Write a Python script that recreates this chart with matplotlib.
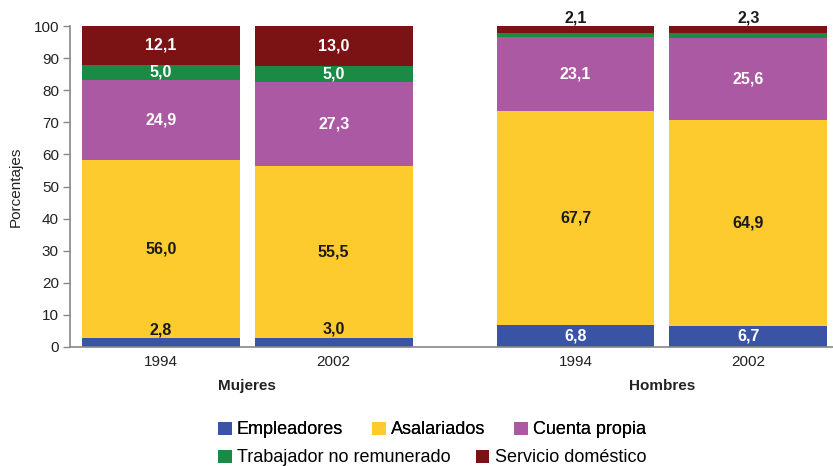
import numpy as np
import matplotlib
matplotlib.use("Agg")
import matplotlib.pyplot as plt
from matplotlib.patches import Patch
import matplotlib.transforms as mtransforms

plt.rcParams['font.family'] = ['Liberation Sans', 'DejaVu Sans']

groups = ["Mujeres", "Hombres"]
years = ["1994", "2002", "1994", "2002"]
categories = ["Empleadores", "Asalariados", "Cuenta propia",
              "Trabajador no remunerado", "Servicio doméstico"]
empleadores = [2.8, 3.0, 6.8, 6.7]
asalariados = [56.0, 55.5, 67.7, 64.9]
cuenta_propia = [24.9, 27.3, 23.1, 25.6]
no_remunerado = [5.0, 5.0, 1.5, 1.6]
domestico = [12.1, 13.0, 2.1, 2.3]
# which labels are shown (Hombres' unpaid workers are unlabeled)
show_label = [[True] * 4, [True] * 4, [True] * 4,
              [True, True, False, False], [True] * 4]

colors = ["#3A53A4", "#FDCB2D", "#AC59A3", "#1A8A45", "#7B1214"]
series = [empleadores, asalariados, cuenta_propia, no_remunerado, domestico]

data = np.array(series, dtype=float)
totals = data.sum(axis=0)
shares = data / totals * 100

x = np.array([0, 1, 2.4, 3.4])
width = 0.913

fig = plt.figure(figsize=(8.33, 4.66), dpi=100)
ax = fig.add_axes([70 / 833, 1 - 347 / 466, 1 - 70 / 833, (347 - 26) / 466])

bottom = np.zeros(4)
for i, (vals, col) in enumerate(zip(shares, colors)):
    ax.bar(x, vals, width, bottom=bottom, color=col, label=categories[i],
           zorder=2)
    for j in range(4):
        if not show_label[i][j]:
            continue
        txt = f"{data[i][j]:.1f}".replace(".", ",")
        if i == 0 and j < 2:
            ax.text(x[j], bottom[j] + vals[j] + 0.3, txt, ha='center', va='bottom',
                    fontsize=11.5, fontweight='bold', color='#1a1a1a')
        elif i == 4 and j >= 2:
            ax.text(x[j], 100.3, txt, ha='center', va='bottom', fontsize=11.5,
                    fontweight='bold', color='#1a1a1a', clip_on=False)
        else:
            c = '#1a1a1a' if i == 1 else 'white'
            ax.text(x[j], bottom[j] + vals[j] / 2, txt, ha='center', va='center',
                    fontsize=11.5, fontweight='bold', color=c)
    bottom += vals

ax.set_ylim(0, 100)
ax.set_xlim(-0.526, 3.89)
ax.set_yticks(np.arange(0, 101, 10))
ax.set_xticks(x)
ax.set_xticklabels(years)
ax.tick_params(axis='x', length=0, labelsize=11, pad=6, colors='#222222')
ax.tick_params(axis='y', length=5, width=1, labelsize=11, colors='#888888',
               labelcolor='#222222', pad=3)
for s in ['top', 'right']:
    ax.spines[s].set_visible(False)
for s in ['left', 'bottom']:
    ax.spines[s].set_color('#888888')
    ax.spines[s].set_linewidth(1.2)
ax.set_ylabel("Porcentajes", fontsize=11, color='#222222', labelpad=8)

trans = mtransforms.blended_transform_factory(ax.transData, ax.transAxes)
ax.text((x[0] + x[1]) / 2, -0.122, groups[0], transform=trans, ha='center',
        va='center', fontsize=11, fontweight='bold', color='#222222')
ax.text((x[2] + x[3]) / 2, -0.122, groups[1], transform=trans, ha='center',
        va='center', fontsize=11, fontweight='bold', color='#222222')

handles = [Patch(facecolor=c, edgecolor='none') for c in colors]
leg1 = fig.legend(handles[:3], categories[:3], loc='center left',
                  bbox_to_anchor=(218 / 833, 1 - 430 / 466), ncol=3, frameon=False,
                  fontsize=13, handlelength=0.75, handleheight=0.75,
                  handletextpad=0.3, columnspacing=1.6, borderpad=0, borderaxespad=0)
fig.add_artist(leg1)
leg2 = fig.legend(handles[3:], categories[3:], loc='center left',
                  bbox_to_anchor=(218 / 833, 1 - 458 / 466), ncol=2, frameon=False,
                  fontsize=13, handlelength=0.75, handleheight=0.75,
                  handletextpad=0.3, columnspacing=1.4, borderpad=0, borderaxespad=0)

fig.savefig("out.png", dpi=100)
